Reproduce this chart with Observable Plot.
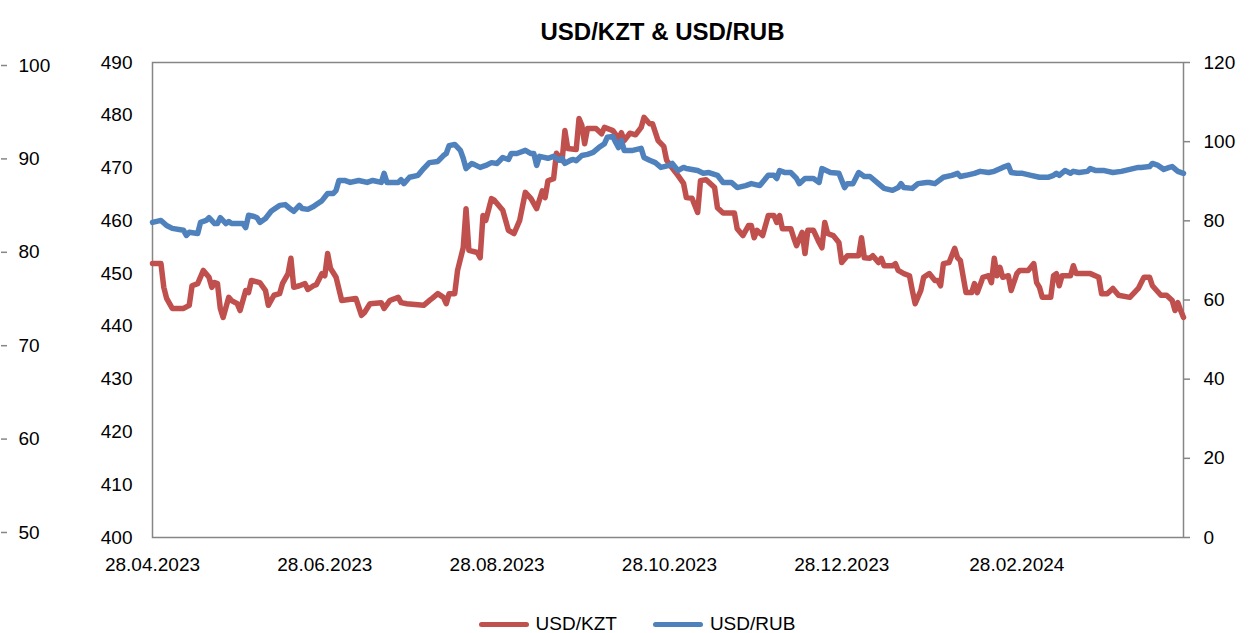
<!DOCTYPE html>
<html><head><meta charset="utf-8">
<script src="https://cdn.jsdelivr.net/npm/d3@7"></script>
<script src="https://cdn.jsdelivr.net/npm/@observablehq/plot@0.6"></script>
<style>
body{margin:0;background:#fff;font-family:"Liberation Sans",Arial,sans-serif;color:#000;overflow:hidden;}
#title{height:31px;padding-top:19px;margin-left:142px;width:1041px;text-align:center;font-weight:bold;font-size:24px;line-height:26px;}
#legend{height:43px;box-sizing:border-box;padding-top:25px;padding-left:16px;display:flex;justify-content:center;align-items:center;font-size:19px;line-height:22px;}
.item{display:flex;align-items:center;margin:0 18px;}
.sw{width:50px;height:5px;border-radius:3px;margin-right:7px;}
</style></head><body>
<div id="title">USD/KZT &amp; USD/RUB</div>
<div id="chart"></div>
<div id="legend"></div>
<script>
const seriesNames = ["USD/KZT", "USD/RUB"];
const seriesColors = ["#C0504D", "#4F81BD"];

const kztDates = ["2023-04-28","2023-05-01","2023-05-02","2023-05-03","2023-05-05","2023-05-09","2023-05-11","2023-05-12","2023-05-14","2023-05-16","2023-05-18","2023-05-19","2023-05-20","2023-05-21","2023-05-22","2023-05-23","2023-05-25","2023-05-26","2023-05-28","2023-05-29","2023-05-31","2023-06-01","2023-06-02","2023-06-05","2023-06-07","2023-06-08","2023-06-10","2023-06-12","2023-06-13","2023-06-15","2023-06-16","2023-06-17","2023-06-19","2023-06-21","2023-06-22","2023-06-24","2023-06-25","2023-06-27","2023-06-28","2023-06-29","2023-06-30","2023-07-02","2023-07-04","2023-07-09","2023-07-11","2023-07-12","2023-07-14","2023-07-18","2023-07-19","2023-07-21","2023-07-24","2023-07-25","2023-07-27","2023-08-02","2023-08-04","2023-08-05","2023-08-07","2023-08-09","2023-08-10","2023-08-11","2023-08-13","2023-08-14","2023-08-16","2023-08-17","2023-08-18","2023-08-21","2023-08-22","2023-08-23","2023-08-24","2023-08-26","2023-08-27","2023-08-30","2023-09-01","2023-09-03","2023-09-05","2023-09-07","2023-09-09","2023-09-11","2023-09-13","2023-09-14","2023-09-15","2023-09-17","2023-09-18","2023-09-20","2023-09-21","2023-09-22","2023-09-25","2023-09-26","2023-09-27","2023-09-28","2023-09-29","2023-10-02","2023-10-04","2023-10-05","2023-10-08","2023-10-10","2023-10-11","2023-10-12","2023-10-14","2023-10-16","2023-10-18","2023-10-19","2023-10-21","2023-10-22","2023-10-24","2023-10-26","2023-10-27","2023-10-29","2023-10-31","2023-11-02","2023-11-03","2023-11-05","2023-11-07","2023-11-08","2023-11-10","2023-11-13","2023-11-14","2023-11-16","2023-11-20","2023-11-21","2023-11-23","2023-11-25","2023-11-26","2023-11-27","2023-11-28","2023-11-30","2023-12-02","2023-12-04","2023-12-05","2023-12-06","2023-12-07","2023-12-10","2023-12-11","2023-12-12","2023-12-14","2023-12-15","2023-12-16","2023-12-18","2023-12-20","2023-12-21","2023-12-22","2023-12-23","2023-12-25","2023-12-27","2023-12-28","2023-12-30","2024-01-03","2024-01-04","2024-01-05","2024-01-07","2024-01-08","2024-01-10","2024-01-11","2024-01-12","2024-01-15","2024-01-16","2024-01-17","2024-01-19","2024-01-21","2024-01-22","2024-01-23","2024-01-25","2024-01-26","2024-01-28","2024-01-30","2024-01-31","2024-02-01","2024-02-02","2024-02-04","2024-02-06","2024-02-07","2024-02-08","2024-02-10","2024-02-12","2024-02-13","2024-02-14","2024-02-16","2024-02-18","2024-02-19","2024-02-20","2024-02-21","2024-02-22","2024-02-23","2024-02-25","2024-02-26","2024-02-28","2024-02-29","2024-03-03","2024-03-05","2024-03-06","2024-03-07","2024-03-08","2024-03-11","2024-03-12","2024-03-13","2024-03-14","2024-03-15","2024-03-18","2024-03-19","2024-03-20","2024-03-25","2024-03-28","2024-03-29","2024-03-31","2024-04-02","2024-04-04","2024-04-08","2024-04-11","2024-04-13","2024-04-15","2024-04-16","2024-04-19","2024-04-21","2024-04-23","2024-04-24","2024-04-25","2024-04-26","2024-04-27"];
const kztValues = [451.9,451.9,447.4,445.3,443.4,443.4,444.0,447.7,448.1,450.6,449.3,447.4,448.3,448.1,443.4,441.7,445.5,444.9,444.3,443.0,446.8,446.4,448.7,448.3,446.8,444.0,445.9,446.2,448.1,450.0,452.9,447.4,447.7,448.1,447.0,447.7,447.9,450.0,449.6,453.8,451.0,449.3,444.9,445.3,442.1,442.6,444.3,444.5,443.4,444.9,445.5,444.5,444.3,444.0,444.9,445.3,446.2,445.5,444.3,446.2,446.2,450.6,454.9,462.3,454.4,454.0,453.0,461.0,460.1,464.2,463.9,462.0,458.2,457.6,460.1,465.4,464.2,462.3,465.7,464.4,467.6,468.0,472.8,471.4,477.1,473.7,473.5,479.4,478.1,474.6,477.5,477.5,476.5,477.7,477.1,475.6,476.7,475.2,476.6,476.3,477.7,479.6,478.4,478.4,475.2,474.1,471.5,470.0,468.6,467.1,464.4,464.3,461.6,467.6,467.8,466.3,462.5,461.5,461.5,458.5,457.2,459.1,459.1,456.8,458.2,457.2,461.0,461.0,459.7,461.0,458.5,458.5,456.8,455.3,457.8,453.8,458.2,458.2,455.9,454.9,459.7,457.6,457.2,455.9,452.1,453.4,453.4,456.8,453.0,452.9,453.4,452.1,452.9,451.5,451.5,451.9,450.6,450.0,449.6,446.8,444.3,446.8,449.3,450.0,448.7,448.7,447.7,451.9,452.1,454.8,453.0,452.5,446.4,446.4,448.1,446.4,449.3,449.6,448.3,452.9,449.6,451.2,449.3,449.6,446.8,450.0,450.6,450.6,451.9,448.3,447.4,445.5,445.5,449.6,450.0,447.7,449.6,449.6,451.5,450.0,450.0,449.3,446.2,446.2,447.2,445.9,445.5,447.2,449.3,449.3,447.7,445.9,445.9,444.9,443.0,444.5,443.0,441.7];

const rubDates = ["2023-04-28","2023-05-01","2023-05-03","2023-05-05","2023-05-09","2023-05-10","2023-05-11","2023-05-14","2023-05-15","2023-05-17","2023-05-18","2023-05-20","2023-05-21","2023-05-22","2023-05-24","2023-05-25","2023-05-26","2023-05-30","2023-05-31","2023-06-01","2023-06-03","2023-06-04","2023-06-05","2023-06-07","2023-06-09","2023-06-10","2023-06-12","2023-06-14","2023-06-16","2023-06-17","2023-06-19","2023-06-20","2023-06-22","2023-06-24","2023-06-25","2023-06-27","2023-06-29","2023-07-01","2023-07-02","2023-07-03","2023-07-05","2023-07-07","2023-07-10","2023-07-13","2023-07-15","2023-07-18","2023-07-19","2023-07-20","2023-07-24","2023-07-25","2023-07-26","2023-07-28","2023-07-31","2023-08-02","2023-08-04","2023-08-07","2023-08-09","2023-08-10","2023-08-11","2023-08-13","2023-08-15","2023-08-16","2023-08-17","2023-08-19","2023-08-20","2023-08-22","2023-08-24","2023-08-26","2023-08-28","2023-08-30","2023-09-01","2023-09-02","2023-09-04","2023-09-07","2023-09-09","2023-09-10","2023-09-11","2023-09-12","2023-09-15","2023-09-17","2023-09-19","2023-09-20","2023-09-21","2023-09-23","2023-09-24","2023-09-25","2023-09-27","2023-09-29","2023-10-01","2023-10-03","2023-10-05","2023-10-06","2023-10-08","2023-10-09","2023-10-10","2023-10-11","2023-10-12","2023-10-15","2023-10-18","2023-10-19","2023-10-21","2023-10-23","2023-10-25","2023-10-28","2023-10-29","2023-10-31","2023-11-02","2023-11-03","2023-11-07","2023-11-09","2023-11-11","2023-11-14","2023-11-16","2023-11-19","2023-11-21","2023-11-24","2023-11-26","2023-11-29","2023-12-02","2023-12-04","2023-12-05","2023-12-06","2023-12-08","2023-12-10","2023-12-12","2023-12-13","2023-12-15","2023-12-18","2023-12-20","2023-12-21","2023-12-24","2023-12-27","2023-12-29","2023-12-30","2024-01-01","2024-01-03","2024-01-05","2024-01-07","2024-01-10","2024-01-12","2024-01-15","2024-01-17","2024-01-18","2024-01-19","2024-01-22","2024-01-24","2024-01-27","2024-01-28","2024-01-30","2024-02-02","2024-02-05","2024-02-07","2024-02-08","2024-02-10","2024-02-13","2024-02-15","2024-02-18","2024-02-20","2024-02-23","2024-02-25","2024-02-26","2024-02-28","2024-03-01","2024-03-04","2024-03-07","2024-03-10","2024-03-12","2024-03-13","2024-03-14","2024-03-16","2024-03-18","2024-03-19","2024-03-21","2024-03-24","2024-03-25","2024-03-27","2024-03-30","2024-04-02","2024-04-05","2024-04-08","2024-04-11","2024-04-12","2024-04-15","2024-04-16","2024-04-18","2024-04-20","2024-04-22","2024-04-23","2024-04-25","2024-04-27"];
const rubValues = [79.6,80.1,78.8,78.1,77.6,76.3,77.1,76.8,79.6,80.1,80.8,79.3,79.3,80.8,79.3,79.8,79.3,79.3,78.3,81.4,81.1,80.8,79.6,80.6,82.4,82.9,83.9,84.1,82.9,82.4,83.9,83.1,82.9,83.6,84.1,85.1,86.9,86.9,87.7,90.2,90.2,89.7,90.2,89.7,90.2,89.7,92.0,89.7,89.7,90.4,89.4,91.0,91.5,93.2,94.7,95.0,96.5,97.0,99.0,99.3,97.8,95.8,93.2,94.5,94.2,93.5,94.0,94.7,94.5,96.0,95.5,97.0,97.0,97.8,97.0,97.0,94.0,96.3,95.8,96.3,95.3,95.8,94.5,95.3,95.5,95.2,96.5,96.8,97.3,98.5,99.5,101.1,101.3,99.8,98.5,100.3,97.8,97.8,98.3,96.0,95.3,94.7,93.5,94.0,94.5,92.7,93.5,93.2,92.7,92.0,92.2,91.5,89.7,89.7,88.4,88.9,89.4,88.9,91.5,91.5,90.7,92.7,92.2,92.2,90.7,89.4,90.7,90.7,89.7,93.2,92.2,92.0,88.4,89.4,89.4,92.2,91.2,91.2,89.4,88.2,87.7,88.4,89.4,88.4,88.2,89.4,89.7,89.7,89.4,91.0,91.5,92.0,91.2,91.5,92.0,92.5,92.2,92.5,93.5,94.0,92.2,92.0,92.0,91.5,91.0,91.0,91.5,92.0,91.5,92.7,92.0,92.5,92.2,92.5,93.2,92.7,92.7,92.2,92.5,93.0,93.5,93.5,93.7,94.5,94.0,93.0,93.5,93.7,92.5,92.0];

const xTickDates = ["2023-04-28","2023-06-28","2023-08-28","2023-10-28","2023-12-28","2024-02-28"];
const xDomain = ["2023-04-28","2024-04-27"];
const kztTicks = [400,410,420,430,440,450,460,470,480,490];
const rubTicks = [0,20,40,60,80,100,120];
const outerTicks = [50,60,70,80,90,100];

const parse = d3.utcParse("%Y-%m-%d");
const fmt = d3.utcFormat("%d.%m.%Y");
const KMIN = kztTicks[0], KMAX = kztTicks[kztTicks.length-1];
const RMAX = rubTicks[rubTicks.length-1];
const rubToK = v => KMIN + v*(KMAX-KMIN)/RMAX;
const kToRub = k => (k-KMIN)*RMAX/(KMAX-KMIN);
// stray outer axis (50..100) sits slightly inside the plot's span
const OUT_LO = 400.95, OUT_SLOPE = 1.7696;
const outToK = v => OUT_LO + (v-outerTicks[0])*OUT_SLOPE;
const kToOut = k => (k-OUT_LO)/OUT_SLOPE + outerTicks[0];

const kzt = kztDates.map((d,i)=>({date:parse(d), v:kztValues[i]}));
const rub = rubDates.map((d,i)=>({date:parse(d), v:rubValues[i]}));

const chart = Plot.plot({
  width:1258, height:540,
  marginTop:12, marginBottom:53, marginLeft:152, marginRight:75,
  style:{fontFamily:"Liberation Sans, Arial, sans-serif", fontSize:"19px", color:"#000", background:"#fff", overflow:"visible"},
  x:{type:"utc", domain:xDomain.map(parse)},
  y:{domain:[KMIN,KMAX]},
  marks:[
    Plot.frame({stroke:"#868686", strokeWidth:1.5}),
    Plot.axisY(kztTicks, {anchor:"left", tickSize:0, tickPadding:20, label:null}),
    Plot.axisY(rubTicks.map(rubToK), {anchor:"right", tickSize:6, tickPadding:14, stroke:"#868686", strokeWidth:1.5, tickFormat:d=>String(Math.round(kToRub(d))), label:null}),
    Plot.axisY(outerTicks.map(outToK), {anchor:"right", dx:-1183, tickSize:6, tickPadding:12, stroke:"#868686", strokeWidth:1.5, tickFormat:d=>String(Math.round(kToOut(d))), label:null}),
    Plot.axisX(xTickDates.map(parse), {anchor:"bottom", tickSize:0, tickPadding:20, tickFormat:fmt, label:null}),
    Plot.line(kzt, {x:"date", y:"v", stroke:seriesColors[0], strokeWidth:5.5, strokeLinejoin:"round", strokeLinecap:"round"}),
    Plot.line(rub, {x:"date", y:d=>rubToK(d.v), stroke:seriesColors[1], strokeWidth:5.5, strokeLinejoin:"round", strokeLinecap:"round"})
  ]
});
document.getElementById("chart").appendChild(chart);

const lg = document.getElementById("legend");
seriesNames.forEach((n,i)=>{
  const it = document.createElement("div"); it.className="item";
  const sw = document.createElement("div"); sw.className="sw"; sw.style.background=seriesColors[i];
  const tx = document.createElement("span"); tx.textContent=n;
  it.appendChild(sw); it.appendChild(tx); lg.appendChild(it);
});
</script></body></html>
